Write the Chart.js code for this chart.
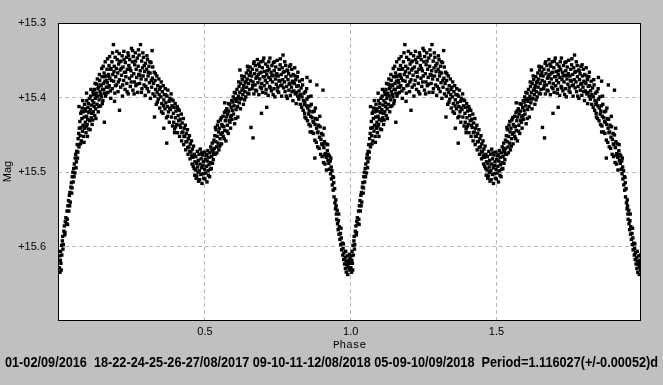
<!DOCTYPE html>
<html>
<head>
<meta charset="utf-8">
<script src="https://cdn.jsdelivr.net/npm/chart.js@4"></script>
<style>
    html, body { margin: 0; padding: 0; background: #c0c0c0; }
    #wrap { width: 663px; height: 385px; }
</style>
</head>
<body>
<div id="wrap"><canvas id="lightCurve" width="663" height="385"></canvas></div>
<script>
// Phased light curve: [phase, magnitude], one cycle
const egress = [
    [0.001,15.628],[0.002,15.612],[0.003,15.634],[0.004,15.618],[0.005,15.606],[0.006,15.622],[0.008,15.598],[0.009,15.611],
    [0.011,15.592],[0.012,15.586],[0.014,15.597],[0.016,15.579],[0.018,15.572],[0.019,15.584],[0.021,15.566],[0.023,15.561],
    [0.025,15.569],[0.027,15.552],[0.028,15.563],[0.030,15.545],[0.032,15.538],[0.033,15.552],[0.035,15.531],[0.037,15.527],
    [0.038,15.540],[0.040,15.520],[0.042,15.514],[0.043,15.528],[0.045,15.506],[0.047,15.500],[0.048,15.513],[0.050,15.495],
    [0.052,15.489],[0.054,15.501],[0.055,15.481],[0.057,15.476],[0.059,15.486],[0.060,15.472],[0.062,15.463],[0.063,15.481],
    [0.065,15.455],[0.067,15.448],[0.068,15.466],[0.069,15.441],[0.068,15.412]
];
const riseA = [
    [0.071,15.432],[0.072,15.451],[0.074,15.421],[0.075,15.440],[0.076,15.458],[0.078,15.428],[0.079,15.414],[0.080,15.445],
    [0.082,15.437],[0.083,15.419],[0.084,15.452],[0.086,15.426],[0.087,15.409],[0.088,15.441],[0.090,15.433],[0.091,15.418],
    [0.092,15.447],[0.094,15.425],[0.095,15.404],[0.096,15.436],[0.098,15.429],[0.099,15.413],[0.101,15.442],[0.102,15.420],
    [0.104,15.401],[0.105,15.431],[0.107,15.416],[0.108,15.398],[0.110,15.427],[0.111,15.410],[0.113,15.436],[0.114,15.404],
    [0.116,15.392],[0.117,15.419],[0.119,15.407],[0.121,15.389],[0.122,15.424],[0.124,15.401],[0.125,15.415],[0.127,15.394],
    [0.129,15.382],[0.130,15.409],[0.132,15.398],[0.134,15.419],[0.135,15.386],[0.137,15.403],[0.139,15.377],[0.140,15.392],
    [0.142,15.411],[0.144,15.384],[0.145,15.399],[0.147,15.372],[0.149,15.389],[0.150,15.404],[0.152,15.381],[0.154,15.367],
    [0.155,15.394],[0.157,15.378],[0.159,15.398],[0.160,15.371],[0.162,15.386],[0.164,15.362],[0.165,15.380],[0.167,15.393],
    [0.169,15.369],[0.171,15.357],[0.172,15.384],[0.174,15.374],[0.176,15.391],[0.178,15.361],[0.179,15.377],
    [0.094,15.394],[0.155,15.433],[0.190,15.405],[0.207,15.417]
];
const maxA = [
    [0.181,15.352],[0.182,15.388],[0.184,15.369],[0.186,15.329],[0.187,15.378],[0.189,15.358],[0.191,15.394],[0.192,15.346],
    [0.194,15.372],[0.196,15.361],[0.197,15.383],[0.199,15.349],[0.201,15.367],[0.202,15.392],[0.204,15.355],[0.206,15.341],
    [0.207,15.376],[0.209,15.363],[0.211,15.386],[0.212,15.351],[0.214,15.370],[0.216,15.344],[0.217,15.398],[0.219,15.359],
    [0.221,15.377],[0.222,15.338],[0.224,15.366],[0.226,15.389],[0.227,15.353],[0.229,15.372],[0.231,15.346],[0.232,15.381],
    [0.234,15.362],[0.236,15.340],[0.237,15.395],[0.239,15.357],[0.241,15.374],[0.242,15.349],[0.244,15.385],[0.246,15.364],
    [0.248,15.334],[0.249,15.371],[0.251,15.352],[0.253,15.390],[0.254,15.345],[0.256,15.368],[0.258,15.379],[0.259,15.356],
    [0.261,15.340],[0.263,15.384],[0.264,15.362],[0.266,15.373],[0.268,15.347],[0.269,15.393],[0.271,15.358],[0.273,15.369],
    [0.274,15.343],[0.276,15.381],[0.278,15.364],[0.279,15.329],[0.281,15.375],[0.283,15.351],[0.284,15.388],[0.286,15.360],
    [0.288,15.371],[0.289,15.346],[0.291,15.383],[0.293,15.365],[0.295,15.397],[0.296,15.354],[0.298,15.376],[0.300,15.362],
    [0.302,15.388],[0.303,15.349],[0.305,15.371],[0.307,15.392],[0.308,15.358],[0.310,15.380],[0.312,15.367],[0.313,15.401],
    [0.315,15.353],[0.317,15.386],[0.319,15.337],[0.320,15.374],[0.322,15.395]
];
const fallA = [
    [0.324,15.381],[0.326,15.366],[0.328,15.398],[0.329,15.377],[0.331,15.389],[0.333,15.409],[0.335,15.371],[0.336,15.393],
    [0.338,15.384],[0.340,15.402],[0.342,15.375],[0.343,15.396],[0.345,15.414],[0.347,15.386],[0.349,15.399],[0.350,15.379],
    [0.352,15.408],[0.354,15.392],[0.356,15.421],[0.357,15.384],[0.359,15.403],[0.361,15.396],[0.363,15.415],[0.364,15.388],
    [0.366,15.407],[0.368,15.427],[0.370,15.398],[0.371,15.412],[0.373,15.390],[0.375,15.419],[0.377,15.405],[0.378,15.433],
    [0.380,15.401],[0.382,15.416],[0.384,15.395],[0.385,15.426],[0.387,15.411],[0.389,15.438],[0.391,15.404],[0.392,15.421],
    [0.394,15.413],[0.396,15.442],[0.398,15.408],[0.399,15.427],[0.401,15.418],[0.403,15.436],[0.405,15.412],[0.406,15.447],
    [0.408,15.424],[0.410,15.431],[0.412,15.417],[0.413,15.452],[0.415,15.429],[0.417,15.440],[0.419,15.422],[0.420,15.458],
    [0.422,15.434],[0.424,15.446],[0.426,15.428],[0.427,15.463],[0.429,15.441],[0.431,15.452],[0.433,15.437],[0.434,15.470],
    [0.436,15.448],[0.438,15.459],[0.440,15.443],[0.442,15.476],[0.443,15.455],[0.445,15.466],[0.447,15.451],[0.449,15.482],
    [0.450,15.462],[0.452,15.473],[0.454,15.458],[0.456,15.489],[0.457,15.469],[0.459,15.480],[0.461,15.465],[0.463,15.495],
    [0.464,15.476],[0.466,15.486],[0.369,15.461],[0.396,15.447],[0.327,15.426],[0.359,15.441]
];
const secMin = [
    [0.468,15.497],[0.469,15.479],[0.471,15.488],[0.472,15.505],[0.474,15.472],[0.475,15.493],[0.477,15.484],[0.478,15.512],
    [0.480,15.476],[0.481,15.498],[0.483,15.489],[0.484,15.469],[0.486,15.503],[0.487,15.482],[0.489,15.494],[0.490,15.515],
    [0.492,15.477],[0.493,15.491],[0.495,15.486],[0.496,15.508],[0.498,15.473],[0.499,15.496],[0.501,15.483],[0.502,15.501],
    [0.504,15.478],[0.505,15.492],[0.507,15.513],[0.508,15.485],[0.510,15.471],[0.511,15.498],[0.513,15.480],[0.514,15.490],
    [0.516,15.506],[0.517,15.474],[0.519,15.487],[0.520,15.466],[0.522,15.495],[0.523,15.479],[0.525,15.461],[0.526,15.488],
    [0.528,15.472],[0.529,15.483],[0.531,15.457]
];
const riseB = [
    [0.532,15.468],[0.534,15.451],[0.535,15.476],[0.537,15.459],[0.538,15.443],[0.540,15.466],[0.542,15.452],[0.543,15.437],
    [0.545,15.461],[0.547,15.446],[0.548,15.470],[0.550,15.441],[0.552,15.455],[0.553,15.430],[0.555,15.449],[0.557,15.462],
    [0.558,15.436],[0.560,15.447],[0.562,15.425],[0.563,15.452],[0.565,15.439],[0.567,15.420],[0.568,15.444],[0.570,15.431],
    [0.572,15.458],[0.573,15.426],[0.575,15.415],[0.577,15.437],[0.578,15.422],[0.580,15.448],[0.582,15.418],[0.583,15.431],
    [0.585,15.409],[0.587,15.426],[0.588,15.441],[0.590,15.413],[0.592,15.404],[0.593,15.429],[0.595,15.417],[0.597,15.399],
    [0.598,15.422],[0.600,15.411],[0.602,15.435],[0.603,15.402],[0.605,15.394],[0.607,15.416],[0.608,15.405],[0.610,15.389],
    [0.612,15.412],[0.613,15.426],[0.615,15.398],[0.617,15.385],[0.618,15.407],[0.620,15.393],[0.622,15.415],[0.623,15.381],
    [0.625,15.401],[0.627,15.390],[0.628,15.376],[0.630,15.396],[0.632,15.409],[0.633,15.384],[0.635,15.372],[0.637,15.392],
    [0.638,15.380],[0.640,15.399],[0.642,15.367],[0.643,15.386],[0.645,15.375],[0.647,15.394],[0.648,15.363],[0.650,15.381],
    [0.652,15.370],[0.653,15.389],[0.655,15.359],[0.657,15.377],
    [0.665,15.454],[0.694,15.421],[0.712,15.413],[0.620,15.363],[0.568,15.407],[0.658,15.440]
];
const maxB = [
    [0.660,15.371],[0.662,15.388],[0.663,15.362],[0.665,15.379],[0.667,15.354],[0.668,15.395],[0.670,15.368],[0.672,15.383],
    [0.673,15.357],[0.675,15.374],[0.677,15.391],[0.678,15.363],[0.680,15.349],[0.682,15.380],[0.683,15.369],[0.685,15.396],
    [0.687,15.358],[0.688,15.375],[0.690,15.386],[0.692,15.352],[0.693,15.366],[0.695,15.381],[0.697,15.360],[0.698,15.393],
    [0.700,15.372],[0.702,15.347],[0.703,15.384],[0.705,15.365],[0.707,15.377],[0.708,15.355],[0.710,15.389],[0.712,15.369],
    [0.713,15.380],[0.715,15.358],[0.717,15.397],[0.718,15.373],[0.720,15.362],[0.722,15.385],[0.723,15.347],[0.725,15.376],
    [0.727,15.366],[0.728,15.391],[0.730,15.357],[0.732,15.379],[0.733,15.370],[0.735,15.353],[0.737,15.388],[0.738,15.364],
    [0.740,15.399],[0.742,15.375],[0.743,15.359],[0.745,15.382],[0.747,15.368],[0.748,15.350],[0.750,15.386],[0.752,15.371],
    [0.753,15.393],[0.755,15.362],[0.757,15.378],[0.758,15.356],[0.760,15.384],[0.762,15.369],[0.763,15.398],[0.765,15.360],
    [0.767,15.376],[0.768,15.343],[0.770,15.387],[0.772,15.365],[0.773,15.379],[0.775,15.392],[0.777,15.357],[0.778,15.372],
    [0.780,15.385],[0.782,15.363],[0.783,15.401],[0.785,15.376],[0.787,15.368],[0.788,15.390],[0.790,15.358],[0.792,15.381],
    [0.793,15.397],[0.795,15.371],[0.797,15.386],[0.798,15.362],[0.800,15.378],[0.802,15.404],[0.803,15.369],[0.805,15.391],
    [0.807,15.381],[0.808,15.360],[0.810,15.395],[0.812,15.376],[0.813,15.408],[0.815,15.385],[0.817,15.372],[0.818,15.398],
    [0.850,15.373],[0.884,15.383],[0.905,15.390],[0.861,15.378]
];
const fallB = [
    [0.820,15.384],[0.822,15.402],[0.823,15.391],[0.825,15.378],[0.827,15.409],[0.828,15.396],[0.830,15.387],[0.832,15.413],
    [0.833,15.399],[0.835,15.383],[0.837,15.417],[0.838,15.404],[0.840,15.394],[0.842,15.421],[0.843,15.406],[0.845,15.392],
    [0.847,15.428],[0.848,15.411],[0.850,15.402],[0.852,15.431],[0.853,15.414],[0.855,15.399],[0.857,15.436],[0.858,15.418],
    [0.860,15.411],[0.862,15.438],[0.863,15.425],[0.865,15.409],[0.867,15.446],[0.868,15.427],[0.870,15.419],[0.872,15.448],
    [0.873,15.433],[0.875,15.418],[0.877,15.457],[0.878,15.436],[0.880,15.428],[0.882,15.460],[0.883,15.441],[0.885,15.429],
    [0.887,15.466],[0.888,15.446],[0.890,15.437],[0.892,15.468],[0.893,15.453],[0.895,15.439],[0.897,15.476],[0.898,15.456],
    [0.900,15.448],[0.902,15.479],[0.903,15.463],[0.905,15.450],[0.907,15.487],[0.908,15.467],[0.910,15.459],[0.912,15.489],
    [0.913,15.475],[0.915,15.462],[0.917,15.497],[0.918,15.478],[0.920,15.471],[0.922,15.484],[0.923,15.476],
    [0.843,15.426],[0.861,15.446],[0.877,15.481],[0.911,15.477]
];
const ingress = [
    [0.925,15.488],[0.927,15.478],[0.928,15.496],[0.930,15.485],[0.931,15.502],[0.933,15.493],[0.934,15.509],[0.936,15.498],
    [0.937,15.517],[0.939,15.506],[0.940,15.524],[0.942,15.514],[0.943,15.533],[0.945,15.522],[0.946,15.541],[0.948,15.549],
    [0.949,15.537],[0.951,15.556],[0.952,15.563],[0.954,15.551],[0.955,15.569],[0.957,15.577],[0.958,15.565],[0.960,15.583],
    [0.961,15.573],[0.963,15.590],[0.965,15.582],[0.966,15.597],[0.968,15.588],[0.969,15.604],[0.971,15.595],[0.973,15.611],
    [0.974,15.602],[0.976,15.617],[0.977,15.608],[0.979,15.623],[0.981,15.614],[0.982,15.629],[0.984,15.619],[0.985,15.634],
    [0.987,15.624],[0.989,15.612],[0.990,15.637],[0.992,15.627],[0.993,15.618],[0.995,15.631],[0.997,15.622],[0.998,15.615]
];
// looser points that widen the band all round the cycle
const stragglers = [
    [0.073,15.462],[0.077,15.419],[0.081,15.404],[0.085,15.460],[0.089,15.415],[0.093,15.438],[0.097,15.452],[0.100,15.408],
    [0.103,15.419],[0.106,15.443],[0.109,15.389],[0.112,15.421],[0.115,15.430],[0.118,15.396],[0.120,15.412],[0.123,15.381],
    [0.126,15.428],[0.128,15.397],[0.131,15.375],[0.133,15.388],[0.136,15.412],[0.138,15.369],[0.141,15.383],[0.143,15.396],
    [0.146,15.361],[0.148,15.408],[0.151,15.358],[0.153,15.389],[0.156,15.372],[0.158,15.352],[0.161,15.395],[0.163,15.377],
    [0.166,15.348],[0.168,15.386],[0.170,15.371],[0.173,15.345],[0.175,15.362],[0.177,15.401],
    [0.183,15.340],[0.188,15.365],[0.193,15.384],[0.198,15.338],[0.203,15.379],[0.208,15.352],[0.213,15.361],[0.218,15.383],
    [0.223,15.349],[0.228,15.366],[0.233,15.392],[0.238,15.344],[0.243,15.361],[0.247,15.379],[0.252,15.337],[0.257,15.395],
    [0.262,15.351],[0.267,15.382],[0.272,15.336],[0.277,15.370],[0.282,15.393],[0.287,15.340],[0.292,15.357],[0.297,15.385],
    [0.301,15.344],[0.306,15.366],[0.311,15.352],[0.316,15.377],[0.321,15.359],
    [0.330,15.368],[0.337,15.406],[0.344,15.389],[0.351,15.419],[0.358,15.411],[0.365,15.396],[0.372,15.425],[0.379,15.414],
    [0.386,15.403],[0.393,15.433],[0.400,15.439],[0.407,15.415],[0.414,15.437],[0.421,15.447],[0.428,15.452],[0.435,15.459],
    [0.441,15.467],[0.448,15.472],[0.455,15.478],[0.460,15.492],[0.465,15.504],
    [0.470,15.508],[0.476,15.500],[0.482,15.510],[0.488,15.474],[0.494,15.502],[0.500,15.509],[0.506,15.476],[0.512,15.504],
    [0.518,15.496],[0.524,15.470],[0.530,15.476],
    [0.536,15.440],[0.541,15.474],[0.546,15.432],[0.551,15.465],[0.556,15.427],[0.561,15.438],[0.566,15.455],[0.571,15.418],
    [0.576,15.445],[0.581,15.408],[0.586,15.433],[0.591,15.424],[0.596,15.406],[0.601,15.393],[0.606,15.428],[0.611,15.401],
    [0.616,15.379],[0.621,15.402],[0.626,15.371],[0.631,15.388],[0.636,15.403],[0.641,15.378],[0.646,15.358],[0.651,15.395],
    [0.656,15.366],
    [0.664,15.384],[0.669,15.352],[0.674,15.390],[0.679,15.372],[0.684,15.355],[0.689,15.367],[0.694,15.388],[0.699,15.351],
    [0.704,15.372],[0.709,15.394],[0.714,15.364],[0.719,15.352],[0.724,15.387],[0.729,15.371],[0.734,15.396],[0.739,15.352],
    [0.744,15.370],[0.749,15.391],[0.754,15.377],[0.759,15.348],[0.764,15.383],[0.769,15.366],[0.774,15.352],[0.779,15.398],
    [0.784,15.364],[0.789,15.382],[0.794,15.356],[0.799,15.392],[0.804,15.380],[0.809,15.371],[0.814,15.393],[0.819,15.366],
    [0.826,15.397],[0.834,15.376],[0.841,15.409],[0.849,15.388],[0.856,15.422],[0.864,15.398],[0.871,15.432],[0.879,15.414],
    [0.886,15.447],[0.894,15.425],[0.901,15.462],[0.909,15.441],[0.916,15.480],[0.921,15.463],
    [0.932,15.481],[0.941,15.507],[0.950,15.545],[0.959,15.556],[0.967,15.575],[0.975,15.596],[0.983,15.606],[0.991,15.622],
    [0.996,15.610],[0.007,15.631],[0.013,15.603],[0.020,15.581],[0.029,15.570],[0.036,15.545],[0.044,15.521],[0.051,15.506],
    [0.058,15.494],[0.064,15.473]
];

// the same cycle is plotted twice, at phase 0-1 and 1-2
const cycleOffsets = [0, 1];
const xTicks = [0.5, 1.0, 1.5];
const yTicks = [15.3, 15.4, 15.5, 15.6];
const footer = '01-02/09/2016  18-22-24-25-26-27/08/2017 09-10-11-12/08/2018 05-09-10/09/2018  Period=1.116027(+/-0.00052)d';

const tickFont = {family: '"Liberation Sans", Arial, sans-serif', size: 11};

const frame = {
    id: 'frame',
    beforeDraw(chart) {
        const {ctx, chartArea: a} = chart;
        ctx.save();
        ctx.fillStyle = '#c0c0c0';
        ctx.fillRect(0, 0, chart.width, chart.height);
        ctx.fillStyle = '#ffffff';
        ctx.fillRect(a.left, a.top, a.right - a.left, a.bottom - a.top);
        ctx.restore();
    },
    afterDraw(chart) {
        const {ctx, chartArea: a} = chart;
        ctx.save();
        ctx.strokeStyle = '#000000';
        ctx.lineWidth = 1;
        ctx.strokeRect(a.left + 0.5, a.top + 0.5, a.right - a.left - 1, a.bottom - a.top);
        ctx.fillStyle = '#000000';
        ctx.font = 'bold 15px "Liberation Sans", Arial, sans-serif';
        ctx.textBaseline = 'middle';
        ctx.fillText(footer, 5, 363, 653);
        ctx.restore();
    }
};

function buildPoints() {
    const cycle = [].concat(egress, riseA, maxA, fallA, secMin, riseB, maxB, fallB, ingress, stragglers);
    return cycleOffsets.flatMap(off => cycle.map(([p, m]) => ({x: p + off, y: m})));
}

new Chart(document.getElementById('lightCurve'), {
    type: 'scatter',
    data: {
        datasets: [{
            data: buildPoints(),
            pointStyle: 'rect',
            pointRadius: 2.4,
            borderWidth: 0,
            backgroundColor: '#000000'
        }]
    },
    options: {
        responsive: false,
        animation: false,
        layout: {padding: {top: 23, right: 22, left: 0, bottom: 0}},
        plugins: {legend: {display: false}, tooltip: {enabled: false}},
        scales: {
            x: {
                type: 'linear',
                min: -0.004,
                max: 1.996,
                afterBuildTicks: (scale) => { scale.ticks = xTicks.map(v => ({value: v})); },
                afterFit: (scale) => { scale.height = 65; },
                grid: {color: '#b8b8b8', drawTicks: false},
                border: {display: false, dash: [4, 3]},
                ticks: {padding: 5, color: '#000', font: tickFont, callback: (v) => Number(v).toFixed(1)},
                title: {
                    display: true, text: 'Phase', color: '#000',
                    font: {family: '"Liberation Mono", monospace', size: 11},
                    padding: {top: 0, bottom: 33}
                }
            },
            y: {
                reverse: true,
                min: 15.3,
                max: 15.698,
                afterBuildTicks: (scale) => { scale.ticks = yTicks.map(v => ({value: v})); },
                afterFit: (scale) => { scale.width = 58; },
                grid: {color: '#b8b8b8', drawTicks: false},
                border: {display: false, dash: [4, 3]},
                ticks: {padding: 12, color: '#000', font: tickFont, callback: (v) => '+' + Number(v).toFixed(1)},
                title: {
                    display: true, text: 'Mag', color: '#000',
                    font: tickFont,
                    padding: {top: 1, bottom: 0}
                }
            }
        }
    },
    plugins: [frame]
});
</script>
</body>
</html>
